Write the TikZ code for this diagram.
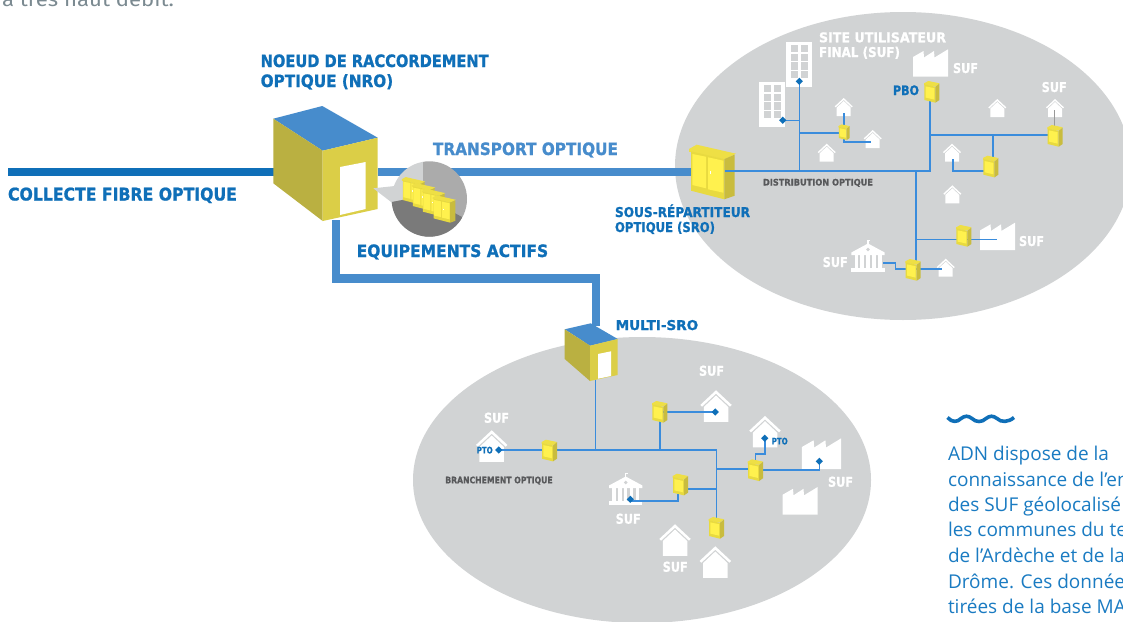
\documentclass[tikz,border=0pt]{standalone}
\usepackage{fontspec}
\usepackage{graphicx}
\newfontfamily\lblfont{DejaVu Sans}[BoldFeatures={FakeBold=1.1}]
\newfontfamily\bodyfont{Open Sans}
\newfontfamily\topfont{Fira Sans}
\definecolor{deepblue}{HTML}{0F6FB8}
\definecolor{midblue}{HTML}{478CCC}
\definecolor{thinblue}{HTML}{3A8CDC}
\definecolor{ovalgrey}{HTML}{D1D3D4}
\definecolor{yellowtop}{HTML}{EEDF45}
\definecolor{yellowside}{HTML}{C9BC3E}
\definecolor{yellowfront}{HTML}{E8DA40}
\definecolor{yellowbright}{HTML}{FFF14E}
\definecolor{wallleft}{HTML}{BAB041}
\definecolor{wallright}{HTML}{DBCE47}
\definecolor{darktext}{HTML}{58595B}
\definecolor{wingrey}{HTML}{D1D3D4}
\definecolor{toptext}{HTML}{7B8A91}
\definecolor{notetext}{HTML}{1A7BC2}
% width, font size, text
\newcommand{\lb}[3]{\resizebox{#1pt}{\height}{\fontsize{#2}{#2}\selectfont\lblfont\bfseries #3}}
\tikzset{
  x=1pt,y=-1pt,
  lab/.style={anchor=base west,inner sep=0pt,outer sep=0pt},
  labdeep/.style={lab,text=deepblue},
  labmid/.style={lab,text=midblue},
  labwhite/.style={lab,text=white},
  labdark/.style={lab,text=darktext},
  bodyline/.style={lab,text=notetext},
  fibre/.style={draw=thinblue,line width=1.6pt},
  thick fibre/.style={draw=midblue,line width=8.4pt},
  end point/.style={fill=deepblue},
  pbo/.pic={
    \fill[yellowtop] (-7.7,-8.7)--(-3.3,-11)--(7.7,-8.7)--(3.7,-5.5)--(-7.7,-7)--cycle;
    \fill[yellowfront] (-7.3,-7.6)--(3.7,-5.2)--(3.7,10.7)--(-7.3,8)--cycle;
    \fill[yellowside] (3.7,-5.2)--(7.7,-8.5)--(7.7,8)--(3.7,10.7)--cycle;
    \fill[yellowbright] (-6,-5.6)--(2.6,-3.8)--(2.6,7.6)--(-6,5.6)--cycle;
  },
  cabinet/.pic={
    \fill[yellowtop] (-23,-23)--(-15.3,-27.3)--(24,-18.3)--(12.3,-12.7)--(-23,-20.3)--cycle;
    \fill[yellowfront] (-21,-20.6)--(12.3,-12.9)--(12.3,27.3)--(-21,18.7)--cycle;
    \fill[yellowside] (12.3,-12.9)--(22.7,-17.4)--(22.7,23.7)--(12.3,27.3)--cycle;
    \fill[yellowbright] (-19.7,-18)--(-6,-15.3)--(-6,16.3)--(-19.7,13)--cycle;
    \fill[yellowbright] (-4,-14.7)--(11.3,-11.3)--(11.3,20.7)--(-4,17.3)--cycle;
    \fill[white] (-2.5,-1)rectangle(-1.8,2);
  },
  house/.pic={
    \fill[white] (0,-9)--(9,-0.6)--(8,0.4)--(0,-7)--(-8,0.4)--(-9,-0.6)--cycle;
    \fill[white] (0,-6)--(7,0.6)--(7,9)--(-7,9)--(-7,0.6)--cycle;
  },
  factory/.pic={
    \fill[white] (-17.5,13.7)--(-17.5,-6)--(-7,-12)--(-6.5,-5.5)--(3.5,-12)--(4,-5.5)--(17.5,-13.7)--(17.5,13.7)--cycle;
  },
  tower/.pic={
    \fill[white] (-13,-22.5) rectangle (13,22.5);
    \foreach \cx in {-8.3,1.7}{\foreach \cy in {-19.5,-10.8,-2.2,6.5}{
      \fill[wingrey] (\cx,\cy) rectangle +(7.3,7.3);
    }}
  },
  bank/.pic={
    \fill[white] (-16.7,-3.5)--(0,-12.5)--(16.7,-3.5)--(16.7,-1)--(-16.7,-1)--cycle;
    \fill[white] (-0.6,-16) rectangle (0.6,-12);
    \fill[white] (-1,-16) rectangle (2,-15);
    \fill[ovalgrey] (0,-6.5) circle (1.8);
    \foreach \cx in {-13.5,-7.6,-1.7,4.2,10.1}{\fill[white] (\cx,-1) rectangle +(3.4,14);}
    \fill[white] (-16.7,12.4) rectangle (16.7,16);
  },
}
\begin{document}
\begin{tikzpicture}
\path[use as bounding box,clip] (0,0) rectangle (1123,621);
\fill[white] (0,0) rectangle (1123,621);
% ovals
\fill[ovalgrey] (903,166) ellipse [x radius=228,y radius=154];
\fill[ovalgrey] (642,480) ellipse [x radius=229,y radius=143];

% ---- named connection points
\coordinate (collecteStart) at (8,172);
\coordinate (nroLeft) at (274,172);
\coordinate (nroRight) at (378,172);
\coordinate (sroLeft) at (692,172);
\coordinate (nroBottom) at (336,220);
\coordinate (bendA) at (336,278.5);
\coordinate (bendB) at (596,278.5);
\coordinate (multiTop) at (596,326);
\coordinate (sroRight) at (725,171);
\coordinate (jTower) at (799.3,171);
\coordinate (dTowerA) at (799.3,81.3);
\coordinate (jTowerB) at (799.3,120.3);
\coordinate (dTowerB) at (782.7,120.3);
\coordinate (jSmall) at (799.3,133);
\coordinate (pSmall) at (839,133);
\coordinate (hSmallUp) at (843.7,113);
\coordinate (pSmallTop) at (843.7,126);
\coordinate (pSmallBot) at (843.7,139);
\coordinate (kSmall) at (843.7,142);
\coordinate (hSmallR) at (870.7,142);
\coordinate (jDrop) at (915.7,171);
\coordinate (pDrop) at (915.7,262);
\coordinate (jFac) at (915.7,239.3);
\coordinate (pFac) at (960,239.3);
\coordinate (pFacR) at (966,239.3);
\coordinate (hFac) at (997,239.3);
\coordinate (pBankR) at (910,269);
\coordinate (kBankA) at (895.3,269);
\coordinate (kBankB) at (895.3,263);
\coordinate (bankEnd) at (883,263);
\coordinate (pBankH) at (915,269);
\coordinate (hBank) at (942,269);
\coordinate (jCorner) at (930,171);
\coordinate (pboTop) at (930,100);
\coordinate (jEast) at (930,135);
\coordinate (pEast) at (1050,135);
\coordinate (jMid) at (993,135);
\coordinate (pMid) at (993,160);
\coordinate (pMidL) at (985,171);
\coordinate (kMid) at (953,171);
\coordinate (hMid) at (953,159);
\coordinate (hEast) at (1054.7,110);
\coordinate (pEastTop) at (1054.7,126);

\coordinate (multiBottom) at (595.3,380);
\coordinate (jMulti) at (595.3,450);
\coordinate (dPtoA) at (498.7,450);
\coordinate (jEnd) at (716.3,450);
\coordinate (pEnd) at (716.3,520);
\coordinate (jUp) at (659.7,450);
\coordinate (pUp) at (659.7,420);
\coordinate (pUpR) at (662,412);
\coordinate (dUp) at (715.3,412);
\coordinate (jRight) at (716.3,469);
\coordinate (pRight) at (750,469);
\coordinate (pRightR) at (758,470);
\coordinate (kRight) at (819.3,470);
\coordinate (dRight) at (819.3,461.3);
\coordinate (pRightTop) at (755.3,460);
\coordinate (kPtoA) at (755.3,453.7);
\coordinate (kPtoB) at (764.7,453.7);
\coordinate (dPtoB) at (764.7,438.3);
\coordinate (jLeft) at (716.3,489);
\coordinate (pLeft) at (685,489);
\coordinate (pLeftBot) at (677.7,494);
\coordinate (kLeft) at (677.7,500.7);
\coordinate (kLeftB) at (630.3,500.7);
\coordinate (dBank) at (630.3,499.3);

% ---- thick fibres
\draw[deepblue,line width=8.4pt] (collecteStart)--(nroLeft);
\draw[thick fibre] (nroRight)--(sroLeft);
\draw[thick fibre,line join=miter] (nroBottom)--(bendA)--(bendB)--(multiTop);

% ---- NRO building
\fill[midblue] (273.3,118.7)--(322.3,106)--(377.7,137.7)--(322.7,150.7)--cycle;
\fill[wallleft] (273.3,118.7)--(322.7,150.7)--(322.7,221)--(273.3,183.3)--cycle;
\fill[wallright] (322.7,150.7)--(377.7,137.7)--(377.7,209)--(322.7,221)--cycle;
\fill[white] (340,167)--(365.7,162)--(365.7,209)--(340,215)--cycle;

% ---- active equipment bubble
\fill[ovalgrey] (373.3,188.3)--(395,186)--(395,205)--cycle;
\begin{scope}
\clip (429.3,199) circle (37.7);
\fill[ovalgrey] (390,160) rectangle (422.7,240);
\fill[black!33] (422.7,160) rectangle (470,240);
\fill[black!52] (390,202.3)--(423,196)--(462,217)--(470,240)--(390,240)--cycle;
\end{scope}
\pic[scale=.5] at (413.3,190.7) {cabinet};
\pic[scale=.5] at (423.3,196.7) {cabinet};
\pic[scale=.5] at (433.3,202.3) {cabinet};
\pic[scale=.5] at (444,209) {cabinet};

% ---- SRO cabinet
\pic at (712,172) {cabinet};

% ---- Multi-SRO building
\fill[midblue] (564.7,329.3)--(590.7,323.3)--(617.7,339)--(590,345.7)--cycle;
\fill[wallleft] (564.7,329.3)--(590,345.7)--(590,381)--(564.7,359)--cycle;
\fill[wallright] (590,345.7)--(617.7,339)--(617.7,375)--(590,381)--cycle;
\fill[white] (598,354)--(611,351.3)--(611,376)--(598,378.7)--cycle;

% ---- sites, upper area
\pic at (799,64.5) {tower};
\pic at (772,104.5) {tower};
\pic at (930.5,63) {factory};
\pic at (997.5,236.4) {factory};
\pic at (868,256) {bank};
\foreach \hx/\hy in {843.7/107,872.7/139,826.7/152.7,997.3/108,1055/108,952/152.7,952.3/194.3,945.7/267.7}{
  \pic at (\hx,\hy) {house};
}
% ---- sites, lower area
\pic[scale=1.12] at (821.5,453.7) {factory};
\pic at (800,500.8) {factory};
\pic at (625.7,489) {bank};
\foreach \hx/\hy in {491.7/446,716/406,765/431.7,675/540,715.3/562}{
  \pic[scale=1.75] at (\hx,\hy) {house};
}

% ---- thin fibres, upper area
\draw[fibre] (sroRight)--(jTower)--(jDrop)--(jCorner)--(pboTop);
\draw[fibre] (jTower)--(dTowerA);
\draw[fibre] (jTowerB)--(dTowerB);
\draw[fibre] (jSmall)--(pSmall);
\draw[fibre] (hSmallUp)--(pSmallTop);
\draw[fibre] (pSmallBot)--(kSmall)--(hSmallR);
\draw[fibre] (jDrop)--(pDrop);
\draw[fibre] (jFac)--(pFac);
\draw[fibre] (pFacR)--(hFac);
\draw[fibre] (pBankR)--(kBankA)--(kBankB)--(bankEnd);
\draw[fibre] (pBankH)--(hBank);
\draw[fibre] (jEast)--(pEast);
\draw[fibre] (jMid)--(pMid);
\draw[fibre] (pMidL)--(kMid)--(hMid);
\draw[draw=black!40,line width=1.2pt] (hEast)--(pEastTop);
% ---- thin fibres, lower area
\draw[fibre] (multiBottom)--(jMulti);
\draw[fibre] (dPtoA)--(jEnd)--(pEnd);
\draw[fibre] (jUp)--(pUp);
\draw[fibre] (pUpR)--(dUp);
\draw[fibre] (jRight)--(pRight);
\draw[fibre] (pRightR)--(kRight)--(dRight);
\draw[fibre] (pRightTop)--(kPtoA)--(kPtoB)--(dPtoB);
\draw[fibre] (jLeft)--(pLeft);
\draw[fibre] (pLeftBot)--(kLeft)--(kLeftB);

% ---- end points
\foreach \d in {dTowerA,dTowerB,dPtoA,dUp,dRight,dPtoB,dBank}{
  \fill[end point] (\d) +(-3.6,0)--+(0,-3.6)--+(3.6,0)--+(0,3.6)--cycle;
}

% ---- street cabinets (PBO)
\foreach \px/\py in {931.7/92,1055/136,990.7/166.7,963.7/236,913/270,549.3/450.7,659.7/412,755.3/470.3,680.3/484.7,716.3/528}{
  \pic at (\px,\py) {pbo};
}
\pic[scale=.72] at (844,132.3) {pbo};

% ---- labels
\node[lab,text=toptext] (topline) at (2,7) {\resizebox{172pt}{\height}{\fontsize{20}{20}\selectfont\topfont à très haut débit.}};
\node[labdeep] (nroA) at (260.7,67) {\lb{228}{17}{NOEUD DE RACCORDEMENT}};
\node[labdeep] (nroB) at (260.7,87) {\lb{132.5}{17}{OPTIQUE (NRO)}};
\node[labmid] (transport) at (433,155) {\lb{185}{17}{TRANSPORT OPTIQUE}};
\node[labdeep] (collecte) at (8,200.5) {\lb{229}{17.5}{COLLECTE FIBRE OPTIQUE}};
\node[labdeep] (actifs) at (356.7,257) {\lb{191.5}{17}{EQUIPEMENTS ACTIFS}};
\node[labdeep] (sroA) at (615,217) {\lb{135}{13.5}{SOUS-RÉPARTITEUR}};
\node[labdeep] (sroB) at (615,232) {\lb{100}{13.5}{OPTIQUE (SRO)}};
\node[labwhite] (sufTitleA) at (819,42.3) {\lb{127}{13.5}{SITE UTILISATEUR}};
\node[labwhite] (sufTitleB) at (819,57) {\lb{81}{13.5}{FINAL (SUF)}};
\node[labdeep] (pboLabel) at (893,95) {\lb{26}{13}{PBO}};
\node[labdark] (distribution) at (763,185.5) {\lb{110}{9}{DISTRIBUTION OPTIQUE}};
\node[labdeep] (multi) at (615.7,330) {\lb{82.5}{13.5}{MULTI-SRO}};
\node[labdark] (branchement) at (445.3,483.3) {\lb{107.4}{9}{BRANCHEMENT OPTIQUE}};
\node[labdeep] (ptoA) at (476.7,453.4) {\lb{16}{9}{PTO}};
\node[labdeep] (ptoB) at (771.7,444.4) {\lb{16}{9}{PTO}};
\node[labwhite] (s1) at (953,73) {\lb{25}{13.5}{SUF}};
\node[labwhite] (s2) at (1041.7,92) {\lb{25}{13.5}{SUF}};
\node[labwhite] (s3) at (1019,246) {\lb{25}{13.5}{SUF}};
\node[labwhite] (s4) at (822.7,267) {\lb{25}{13.5}{SUF}};
\node[labwhite] (s5) at (484,422.7) {\lb{25}{13.5}{SUF}};
\node[labwhite] (s6) at (699,375.7) {\lb{25}{13.5}{SUF}};
\node[labwhite] (s7) at (828,486.7) {\lb{25}{13.5}{SUF}};
\node[labwhite] (s8) at (615.7,523.7) {\lb{25}{13.5}{SUF}};
\node[labwhite] (s9) at (662.7,571.7) {\lb{25}{13.5}{SUF}};

% ---- side note
\draw[deepblue,line width=3.6pt] (947.5,417.5)
  .. controls (952,422.5) and (957,422.5) .. (961,418.5)
  .. controls (965,415.5) and (968,415.5) .. (972,418.5)
  .. controls (976,422.5) and (982,422.5) .. (986,418.5)
  .. controls (990,415.5) and (993,415.5) .. (997,418.5)
  .. controls (1001,422.5) and (1008,422.5) .. (1014,417.5);
\newcommand{\bt}[1]{\fontsize{19}{19}\selectfont\bodyfont #1}
\node[bodyline] (n1) at (948,460) {\bt{ADN dispose de la}};
\node[bodyline] (n2) at (948,486) {\bt{connaissance de l’en}};
\node[bodyline] (n3) at (948,511.7) {\bt{des SUF géolocalisé}};
\node[bodyline] (n4) at (948,536.7) {\bt{les communes du te}};
\node[bodyline] (n5) at (948,562.4) {\bt{de l’Ardèche et de la}};
\node[bodyline] (n6) at (948,588.3) {\bt{Drôme. Ces donnée}};
\node[bodyline] (n7) at (948,613.3) {\bt{tirées de la base MA}};
\end{tikzpicture}
\end{document}
